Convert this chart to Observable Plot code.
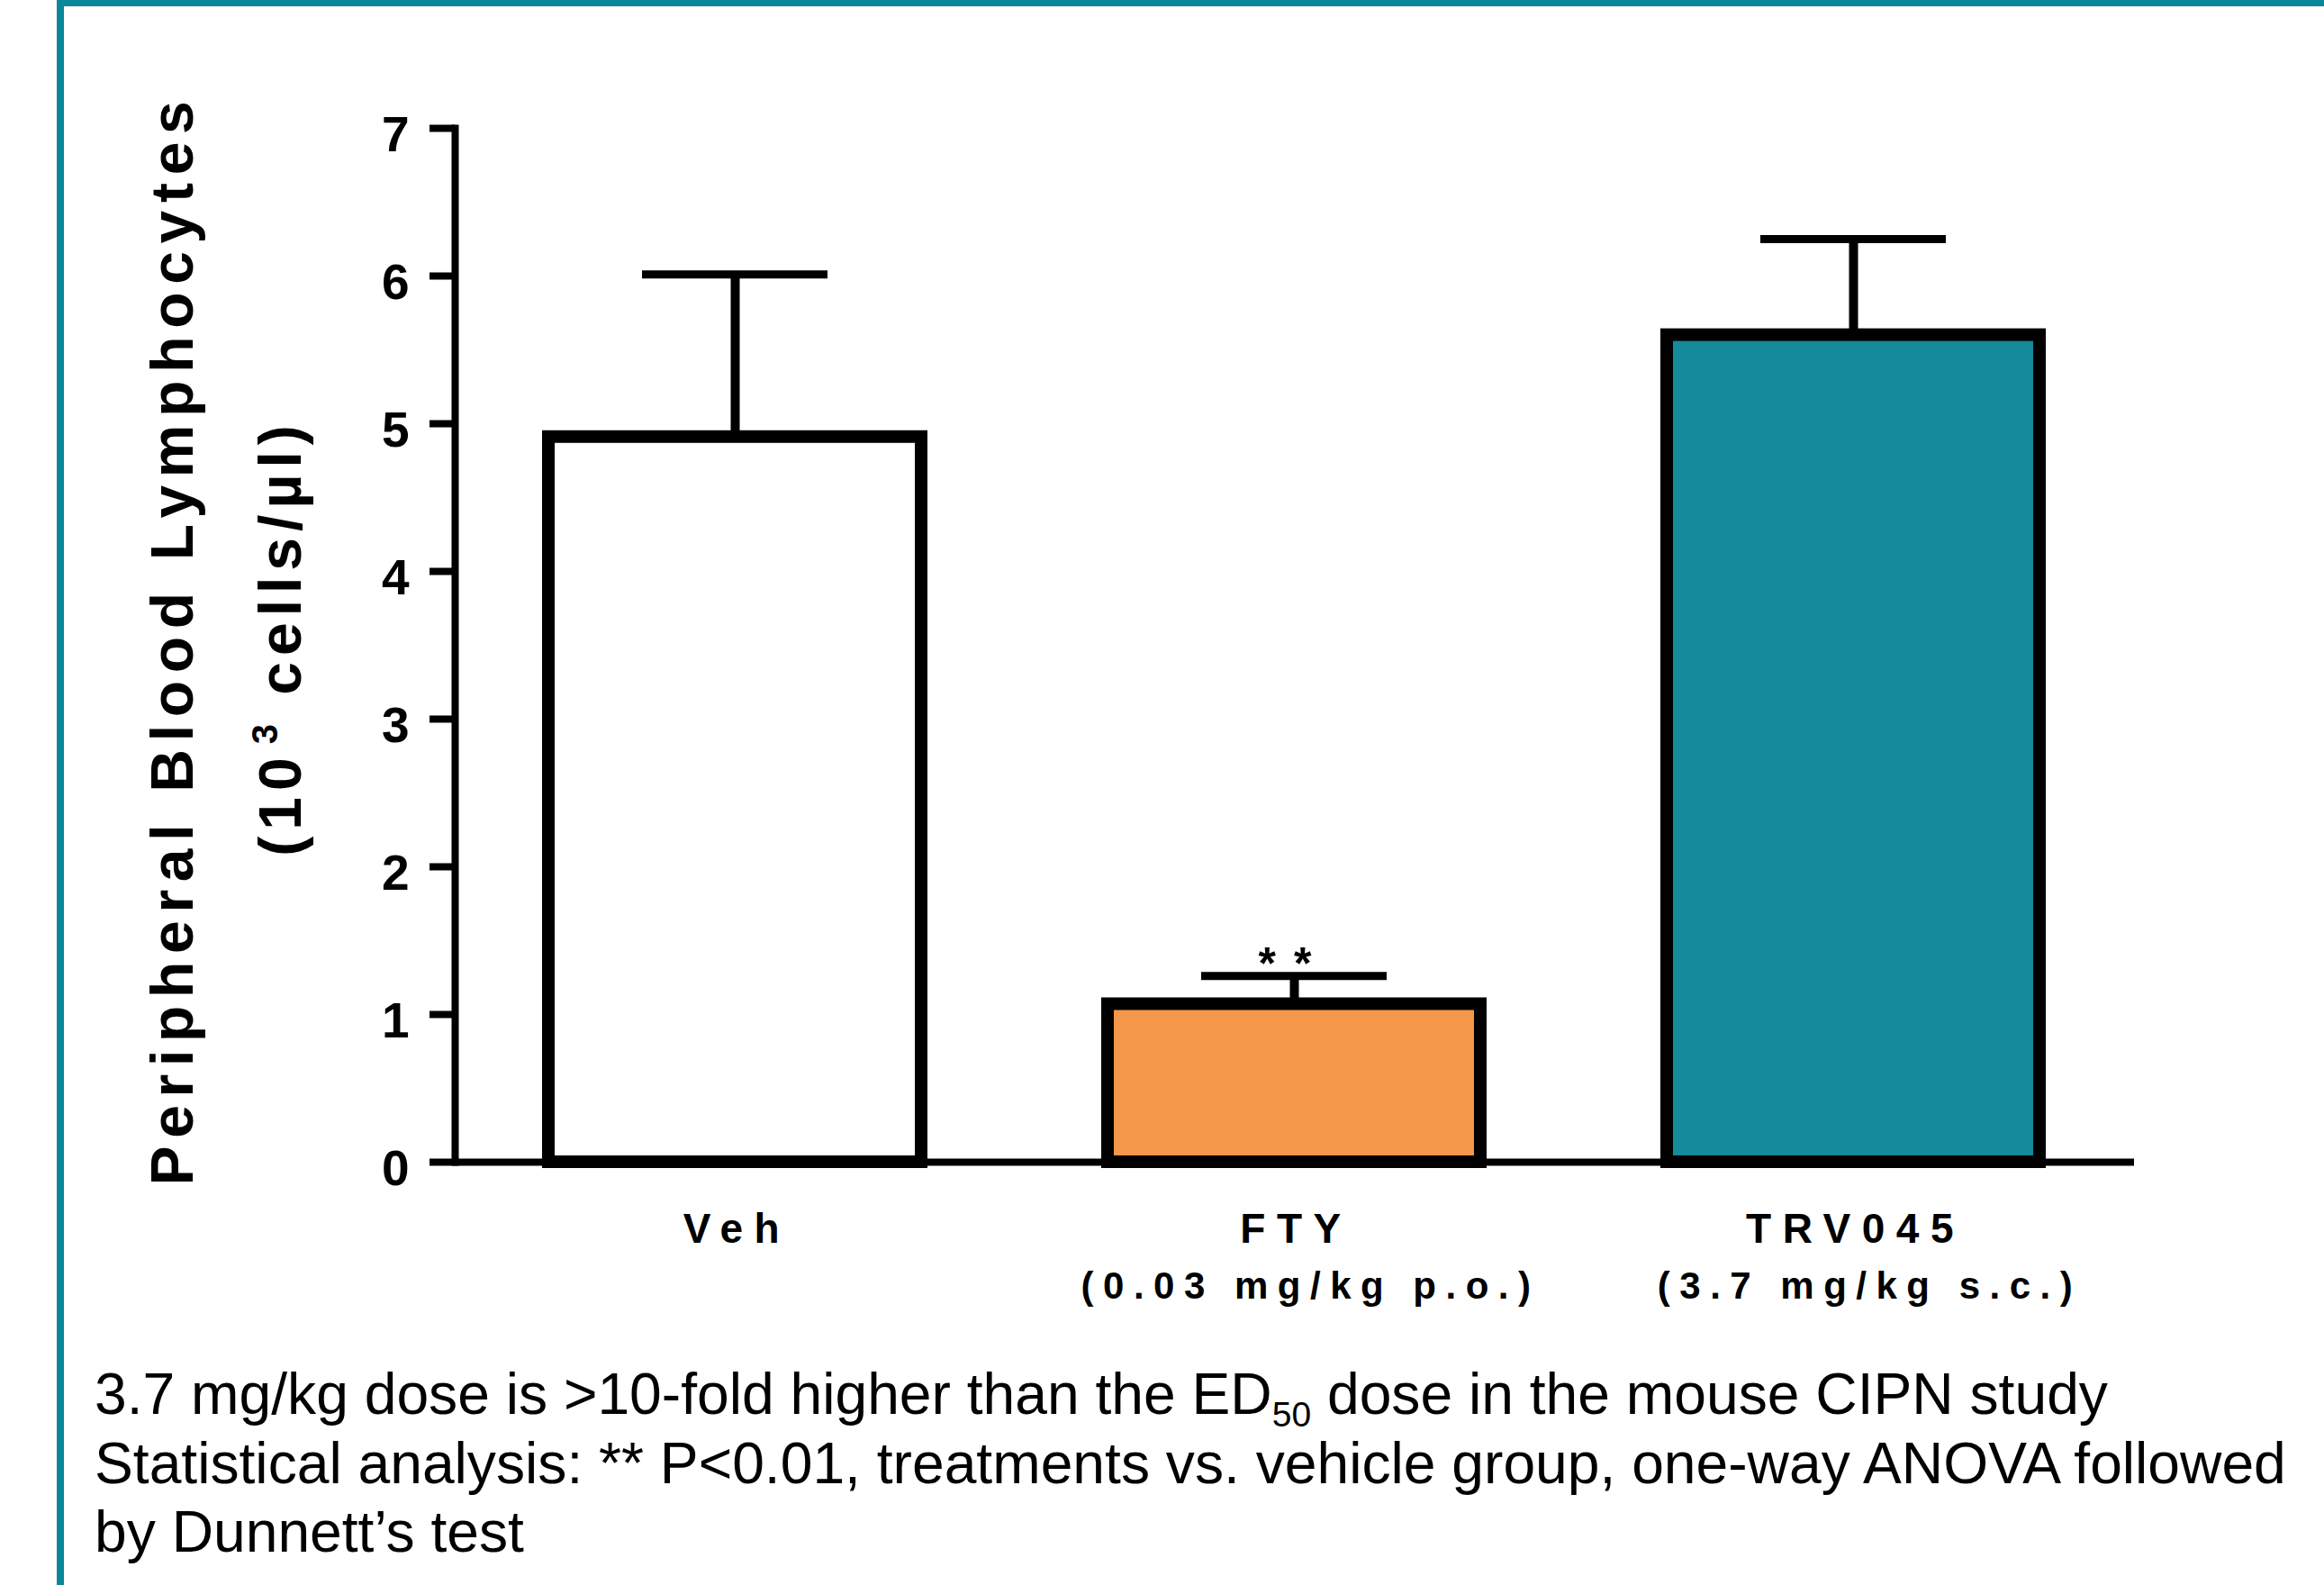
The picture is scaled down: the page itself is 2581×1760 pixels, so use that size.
<!DOCTYPE html>
<html>
<head>
<meta charset="utf-8">
<script src="https://cdn.jsdelivr.net/npm/d3@7"></script>
<script src="https://cdn.jsdelivr.net/npm/@observablehq/plot@0.6"></script>
<style>
  html, body { margin: 0; padding: 0; background: #ffffff; width: 2581px; height: 1760px; overflow: hidden;
    font-family: "Liberation Sans", Arial, Helvetica, sans-serif; }
  #border { position: absolute; left: 63px; top: 0; width: 2518px; height: 1760px; box-sizing: border-box;
    border-left: 8px solid #0b8799; border-top: 7px solid #0b8799; }
  #chart { position: absolute; left: 0; top: 0; }
  .ytitle { position: absolute; white-space: nowrap; font-weight: bold; font-size: 66px; line-height: 1;
    color: #000; transform: translate(-50%, -50%) rotate(-90deg); }
  #caption { position: absolute; left: 105px; top: 1510px; font-size: 64.2px; line-height: 76.5px; color: #000; white-space: nowrap; }
  #caption .sub { font-size: 39px; position: relative; top: 14px; line-height: 0; }
</style>
</head>
<body>
<div id="border"></div>
<div id="chart"></div>
<div class="ytitle" style="left:191px; top:710px; letter-spacing:8.7px;">Peripheral Blood Lymphocytes</div>
<div class="ytitle" style="left:311px; top:708px; letter-spacing:7px;">(10<span style="font-size:40px; position:relative; top:-26px; margin-left:8px; line-height:0;">3</span> cells/µl)</div>
<div id="caption">
  <div>3.7 mg/kg dose is &gt;10-fold higher than the ED<span class="sub">50</span> dose in the mouse CIPN study</div>
  <div>Statistical analysis: ** P&lt;0.01, treatments vs. vehicle group, one-way ANOVA followed</div>
  <div>by Dunnett’s test</div>
</div>
<script>
// ---- data ----
const groups = ["Veh", "FTY", "TRV045"];
const doses = ["", "(0.03 mg/kg p.o.)", "(3.7 mg/kg s.c.)"];
const means = [4.91, 1.07, 5.60];
const sems = [1.10, 0.19, 0.65];
const significance = ["", "* *", ""];
const yTicks = [0, 1, 2, 3, 4, 5, 6, 7];
const barColors = ["#ffffff", "#f5974a", "#148a9b"];

const data = groups.map((g, i) => ({
  group: g, dose: doses[i], mean: means[i], upper: means[i] + sems[i], sig: significance[i]
}));

const chart = Plot.plot({
  width: 2581,
  height: 1480,
  marginLeft: 505,
  marginRight: 211,
  marginTop: 142,
  marginBottom: 190,
  style: {
    fontFamily: "'Liberation Sans', Arial, Helvetica, sans-serif",
    fontWeight: "bold",
    color: "#000",
    background: "transparent",
    overflow: "visible"
  },
  x: { domain: groups, range: [505.5, 2368.5], paddingInner: 0.333, paddingOuter: 0.1665, axis: null, label: null },
  y: { domain: [0, 7], axis: null, label: null },
  marks: [
    Plot.barY(data, {
      x: "group", y: "mean",
      fill: (d, i) => barColors[i],
      stroke: "#000", strokeWidth: 14, strokeLinejoin: "miter"
    }),
    Plot.ruleX(data, { x: "group", y1: "mean", y2: "upper", stroke: "#000", strokeWidth: 10 }),
    Plot.tickY(data, { x: "group", y: "upper", stroke: "#000", strokeWidth: 9, insetLeft: 104, insetRight: 104 }),
    Plot.text(data, { x: "group", y: "upper", text: "sig", fontSize: 50, fontWeight: "bold", dy: -13, dx: -9, fill: "#000" }),
    Plot.ruleY([0], { stroke: "#000", strokeWidth: 8 }),
    Plot.frame({ anchor: "left", stroke: "#000", strokeWidth: 8 }),
    Plot.axisY({ ticks: yTicks, tickSize: 28, strokeWidth: 8, tickFormat: () => "" }),
    Plot.axisY({ ticks: yTicks, tickSize: 0, tickPadding: 51, fontSize: 55, dy: 8, tickFormat: d3.format("d") }),
    Plot.axisX({ tickSize: 0, tickPadding: 57, fontSize: 46, dx: 2 }),
    Plot.text(data, { x: "group", text: "dose", frameAnchor: "bottom", lineAnchor: "top", dy: 122, dx: 18, fontSize: 42, fill: "#000" })
  ]
});

document.getElementById("chart").appendChild(chart);

// letter-spacing for the category labels (as in the reference)
const groupSet = new Set(groups);
const doseSet = new Set(doses.filter(d => d));
const sigSet = new Set(significance.filter(d => d));
chart.querySelectorAll("text").forEach(t => {
  const s = t.textContent;
  if (groupSet.has(s)) t.style.letterSpacing = "12.5px";
  else if (doseSet.has(s)) t.style.letterSpacing = "10.5px";
  else if (sigSet.has(s)) t.style.letterSpacing = "3px";
});
</script>
</body>
</html>
